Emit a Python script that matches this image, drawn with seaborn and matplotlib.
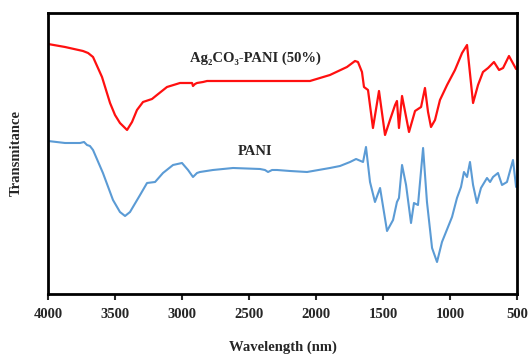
import matplotlib
matplotlib.use("Agg")
import matplotlib.pyplot as plt
import seaborn as sns
import pandas as pd

# Ag2CO3-PANI (50%) spectrum (wavenumber, transmittance a.u.)
red_wn = [4000, 3873, 3739, 3701, 3664, 3597, 3537, 3500, 3463, 3410, 3373, 3336,
          3291, 3224, 3187, 3112, 3015, 2925, 2918, 2903, 2888, 2843, 2813, 2493,
          2194, 2045, 1896, 1769, 1709, 1687, 1657, 1642, 1612, 1575, 1530, 1485,
          1448, 1410, 1396, 1381, 1358, 1306, 1261, 1216, 1187, 1164, 1142, 1112,
          1075, 1022, 963, 910, 873, 828, 791, 754, 716, 672, 634, 604, 560, 507]
red_t = [250, 247, 243, 241, 237, 217, 191, 179, 171, 164, 172, 184,
         192, 195, 199, 207, 211, 211, 208, 210, 211, 212, 213, 213,
         213, 213, 219, 227, 233, 232, 222, 207, 204, 166, 203, 159,
         174, 189, 193, 166, 198, 162, 183, 187, 206, 182, 167, 174,
         194, 209, 224, 241, 249, 191, 209, 222, 226, 232, 224, 226, 238, 225]

# PANI spectrum
blue_wn = [4000, 3873, 3761, 3731, 3709, 3687, 3664, 3590, 3515, 3463, 3425, 3388,
           3366, 3313, 3261, 3201, 3142, 3067, 3000, 2955, 2918, 2888, 2866, 2769,
           2619, 2418, 2381, 2358, 2328, 2291, 2194, 2067, 1896, 1821, 1746, 1701,
           1649, 1627, 1597, 1560, 1522, 1470, 1425, 1396, 1381, 1358, 1328, 1291,
           1269, 1239, 1201, 1172, 1134, 1097, 1060, 985, 948, 918, 896, 873,
           851, 828, 799, 769, 724, 701, 679, 642, 612, 575, 530, 507]
blue_t = [153, 151, 151, 152, 149, 148, 144, 121, 94, 82, 78, 82,
          87, 99, 111, 112, 121, 129, 131, 124, 117, 121, 122, 124,
          126, 125, 124, 122, 124, 124, 123, 122, 126, 128, 132, 135,
          132, 147, 112, 92, 106, 63, 74, 92, 96, 129, 109, 71,
          91, 89, 146, 92, 46, 32, 52, 77, 96, 107, 122, 117,
          132, 109, 91, 106, 116, 112, 117, 121, 109, 112, 134, 107]

label_red = "Ag\u2082CO\u2083-PANI (50%)"
label_blue = "PANI"
xticks = [4000, 3500, 3000, 2500, 2000, 1500, 1000, 500]

sns.set_style("white")
plt.rcParams['font.family'] = ['Liberation Serif', 'DejaVu Serif']
plt.rcParams['font.weight'] = 'bold'

df_red = pd.DataFrame({"wn": red_wn, "t": red_t})
df_blue = pd.DataFrame({"wn": blue_wn, "t": blue_t})

fig = plt.figure(figsize=(5.28, 3.54), dpi=100)
ax = fig.add_axes([0.0909, 0.1695, 0.8883, 0.7938])

sns.lineplot(data=df_red, x="wn", y="t", ax=ax, color="#FF1010", linewidth=1.6,
             sort=False, estimator=None)
sns.lineplot(data=df_blue, x="wn", y="t", ax=ax, color="#5B9BD5", linewidth=1.5,
             sort=False, estimator=None)

ax.set_xlim(4000, 500)
ax.set_ylim(0, 281)
ax.set_xticks(xticks)
ax.set_xticklabels([str(v) for v in xticks], fontsize=10.5, fontweight='bold')
ax.set_yticks([])
ax.tick_params(axis='x', direction='out', length=4, width=1.5, bottom=True, pad=6)

for s in ax.spines.values():
    s.set_linewidth(2)
    s.set_color('black')

ax.text(2455, 236, label_red, fontsize=10.5, fontweight='bold', ha='center', va='center')
ax.text(2455, 142, label_blue, fontsize=10.5, fontweight='bold', ha='center', va='center')

ax.set_xlabel("Wavelength (nm)", fontsize=10.5, fontweight='bold', labelpad=14)
ax.set_ylabel("Transmitance", fontsize=10.5, fontweight='bold', labelpad=18)

fig.savefig("out.png", dpi=100)
